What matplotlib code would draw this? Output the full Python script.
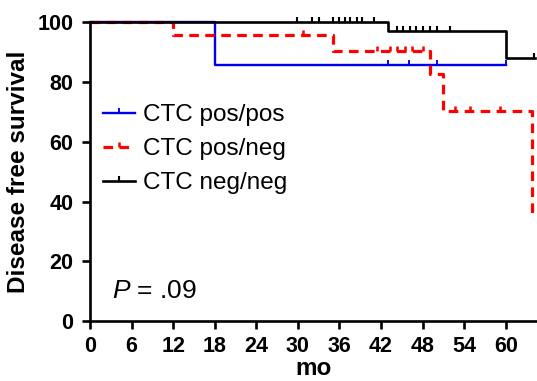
import numpy as np
import matplotlib
matplotlib.use("Agg")
import matplotlib.pyplot as plt
from matplotlib.path import Path
from matplotlib.lines import Line2D

# --- data ---
labels = ["CTC pos/pos", "CTC pos/neg", "CTC neg/neg"]

# step curves: time of each step and survival after it
pospos_t = [0, 18, 60]
pospos_s = [100, 85.7, 85.7]
posneg_t = [0, 12, 35, 49, 51, 63.8]
posneg_s = [100, 95.8, 90.5, 82.8, 70.5, 35.2]
negneg_t = [0, 43, 60, 64.2]
negneg_s = [100, 97.0, 88.2, 88.2]

# censored observations (months)
pospos_cens = [43.0, 46.1, 50.0, 60.0]
posneg_cens = [30.7, 41.4, 43.3, 44.3, 45.5, 46.4, 48.1, 49.1, 52.7, 54.8, 59.2]
negneg_cens = [29.9, 32.1, 33.1, 35.1, 35.9, 36.8, 37.5, 38.5, 39.2, 41.0,
               44.3, 45.2, 46.2, 47.1, 48.1, 49.1, 50.0, 52.0, 64.1]

xticks = [0, 6, 12, 18, 24, 30, 36, 42, 48, 54, 60]
yticks = [0, 20, 40, 60, 80, 100]
p_text = " = .09"

# --- style ---
plt.rcParams['font.family'] = ['Liberation Sans', 'DejaVu Sans']
plt.rcParams['mathtext.fontset'] = 'custom'
plt.rcParams['mathtext.it'] = 'Liberation Sans:italic'
plt.rcParams['mathtext.rm'] = 'Liberation Sans'

W, H = 537, 381
fig = plt.figure(figsize=(W / 100, H / 100), dpi=100)
ax = fig.add_axes([90 / W, 1 - 321 / H, 1 - 90 / W, (321 - 22.5) / H])

tick_mark = Path([(0, 0), (0, 1)])  # censor tick drawn upward from the line


def surv_at(t_steps, s_steps, t):
    idx = np.searchsorted(t_steps, t, side='right') - 1
    return np.array(s_steps)[idx]


series = [
    (pospos_t, pospos_s, pospos_cens, '#0000ee', '-', 1.7, None),
    (posneg_t, posneg_s, posneg_cens, '#ff0000', '--', 2.3, (3, 2)),
    (negneg_t, negneg_s, negneg_cens, 'black', '-', 1.9, None),
]

handles = []
for (t, s, cens, col, ls, lw, dash), lab in zip(series, labels):
    kw = dict(color=col, lw=lw, clip_on=False)
    if dash:
        kw['dashes'] = dash
    ax.step(t, s, where='post', **kw)
    cy = surv_at(t, s, cens)
    ax.plot(cens, cy, linestyle='none', marker=tick_mark, markersize=6.5,
            markeredgewidth=lw * 0.8, color=col, clip_on=False)
    h = Line2D([0], [0], color=col, lw=lw, marker=tick_mark, markersize=6.5,
               markeredgewidth=lw * 0.8)
    if dash:
        h.set_dashes(dash)
    handles.append(h)

ax.set_xlim(0, 64.5)
ax.set_ylim(0, 100)
ax.set_xticks(xticks)
ax.set_yticks(yticks)
for sp in ['top', 'right']:
    ax.spines[sp].set_visible(False)
for sp in ['left', 'bottom']:
    ax.spines[sp].set_linewidth(1.9)
ax.tick_params(width=1.9, length=6, labelsize=15.5)
ax.tick_params(axis='x', pad=5)
ax.tick_params(axis='y', pad=6)
for lab in ax.get_xticklabels() + ax.get_yticklabels():
    lab.set_fontweight('bold')

ax.set_xlabel('mo', fontsize=17.5, fontweight='bold', labelpad=0)
ax.set_ylabel('Disease free survival', fontsize=17.5, fontweight='bold', labelpad=5)

ax.text(3.2, 7.7, r'$\it{P}$' + p_text, fontsize=19, va='baseline', ha='left')

fig.legend(handles, labels, loc='upper left',
           bbox_to_anchor=(103 / W, 1 - 104 / H), frameon=False,
           fontsize=17.5, handlelength=1.3, handletextpad=0.33,
           labelspacing=0.5, borderpad=0, borderaxespad=0, numpoints=1)

fig.savefig('out.png', dpi=100)
